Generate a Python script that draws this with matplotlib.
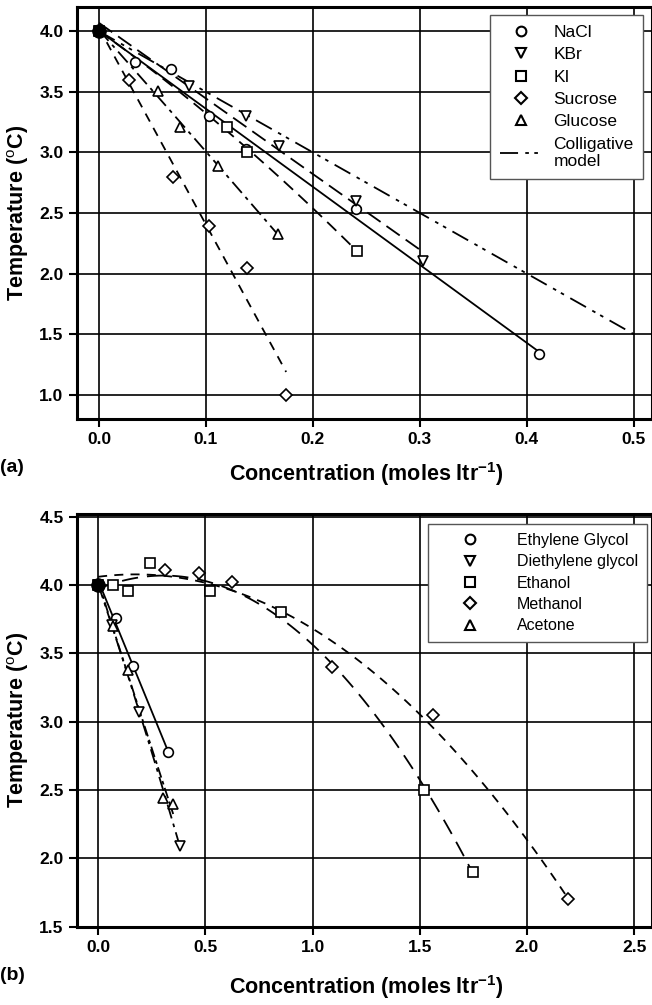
import numpy as np
import matplotlib
matplotlib.use('Agg')
import matplotlib.pyplot as plt
from matplotlib.lines import Line2D

plt.rcParams['font.family'] = ['Liberation Sans', 'DejaVu Sans']
plt.rcParams['mathtext.fontset'] = 'custom'
plt.rcParams['mathtext.rm'] = 'Liberation Sans'
plt.rcParams['mathtext.bf'] = 'Liberation Sans:bold'

# ---- panel (a) data: concentration (mol/l) vs temperature of max density (C)
nacl_x = [0.0, 0.034, 0.067, 0.103, 0.137, 0.240, 0.411]
nacl_y = [4.0, 3.75, 3.69, 3.30, 3.03, 2.53, 1.34]
kbr_x = [0.0, 0.084, 0.137, 0.168, 0.240, 0.303]
kbr_y = [4.0, 3.55, 3.30, 3.05, 2.60, 2.10]
ki_x = [0.0, 0.120, 0.138, 0.241]
ki_y = [4.0, 3.21, 3.00, 2.19]
sucrose_x = [0.0, 0.028, 0.069, 0.103, 0.138, 0.175]
sucrose_y = [4.0, 3.60, 2.80, 2.39, 2.05, 1.00]
glucose_x = [0.0, 0.055, 0.076, 0.111, 0.167]
glucose_y = [4.0, 3.51, 3.21, 2.89, 2.33]
colligative_x = [0.0, 0.5]
colligative_y = [4.0, 1.5]

# ---- panel (b) data
eg_x = [0.0, 0.083, 0.163, 0.324]
eg_y = [4.0, 3.76, 3.41, 2.78]
deg_x = [0.0, 0.065, 0.191, 0.381]
deg_y = [4.0, 3.71, 3.07, 2.09]
ethanol_x = [0.0, 0.07, 0.14, 0.241, 0.521, 0.851, 1.52, 1.749]
ethanol_y = [4.0, 4.0, 3.96, 4.16, 3.96, 3.80, 2.50, 1.90]
methanol_x = [0.0, 0.311, 0.47, 0.622, 1.091, 1.563, 2.19]
methanol_y = [4.0, 4.11, 4.09, 4.02, 3.40, 3.05, 1.70]
acetone_x = [0.0, 0.07, 0.14, 0.303, 0.35]
acetone_y = [4.0, 3.70, 3.38, 2.44, 2.40]

# common starting point (pure water)
origin_x = [0.0]
origin_y = [4.0]

fig = plt.figure(figsize=(6.52, 10.05), dpi=100)
ax1 = fig.add_axes([76.7/652, 1-419/1005, (652-76.7)/652, 412/1005])
ax2 = fig.add_axes([76.7/652, 1-926.7/1005, (652-76.7)/652, 412.7/1005])

mk = dict(ms=7, mfc='white', mec='black', mew=1.2, ls='none', zorder=4)


def fit_line(ax, x, y, deg, style):
    x = np.asarray(x)
    p = np.polyfit(x, y, deg)
    xs = np.linspace(0, x.max(), 100)
    ax.plot(xs, np.polyval(p, xs), color='black', lw=1.3, zorder=3, **style)


# panel (a)
fit_line(ax1, nacl_x, nacl_y, 1, dict(ls='-'))
fit_line(ax1, kbr_x, kbr_y, 1, dict(dashes=(9, 4)))
fit_line(ax1, ki_x, ki_y, 2, dict(dashes=(7, 4)))
fit_line(ax1, sucrose_x, sucrose_y, 1, dict(dashes=(5, 4)))
fit_line(ax1, glucose_x, glucose_y, 2, dict(dashes=(8, 3, 2, 3)))
ax1.plot(colligative_x, colligative_y, color='black', lw=1.3,
         dashes=(10, 4, 2, 3, 2, 4), zorder=3)
ax1.plot(nacl_x, nacl_y, marker='o', **mk)
ax1.plot(kbr_x, kbr_y, marker='v', **mk)
ax1.plot(ki_x, ki_y, marker='s', **mk)
ax1.plot(sucrose_x, sucrose_y, marker='D', **dict(mk, ms=6))
ax1.plot(glucose_x, glucose_y, marker='^', **mk)

# panel (b)
fit_line(ax2, eg_x, eg_y, 1, dict(ls='-'))
fit_line(ax2, deg_x, deg_y, 2, dict(dashes=(8, 3, 2, 3)))
fit_line(ax2, acetone_x, acetone_y, 2, dict(dashes=(6, 2, 2, 2)))
fit_line(ax2, ethanol_x, ethanol_y, 2, dict(dashes=(9, 5)))
fit_line(ax2, methanol_x, methanol_y, 2, dict(dashes=(5, 4)))
ax2.plot(eg_x, eg_y, marker='o', **mk)
ax2.plot(deg_x, deg_y, marker='v', **mk)
ax2.plot(ethanol_x, ethanol_y, marker='s', **mk)
ax2.plot(methanol_x, methanol_y, marker='D', **dict(mk, ms=6))
ax2.plot(acetone_x, acetone_y, marker='^', **mk)

for ax in (ax1, ax2):
    ax.plot(origin_x, origin_y, marker='o', ms=9.5, color='black', ls='none', zorder=5)

ax1.set_xlim(-0.0208, 0.517)
ax1.set_ylim(0.8, 4.2)
ax1.set_xticks(np.arange(0, 0.51, 0.1))
ax1.set_yticks(np.arange(1.0, 4.01, 0.5))
ax2.set_xlim(-0.1, 2.583)
ax2.set_ylim(1.5, 4.52)
ax2.set_xticks(np.arange(0, 2.51, 0.5))
ax2.set_yticks(np.arange(1.5, 4.51, 0.5))

for ax, ylab in ((ax1, -0.1), (ax2, -0.113)):
    ax.grid(True, color='black', lw=1.2)
    ax.set_axisbelow(True)
    for s in ax.spines.values():
        s.set_linewidth(2.2)
    ax.tick_params(direction='out', length=6, width=1.5, labelsize=12.5)
    ax.set_xticklabels(['%.1f' % v for v in ax.get_xticks()], fontweight='bold')
    ax.set_yticklabels(['%.1f' % v for v in ax.get_yticks()], fontweight='bold')
    ax.set_xlabel('Concentration (moles ltr$^{\\mathbf{-1}}$)', fontsize=15.5,
                  fontweight='bold')
    ax.set_ylabel('Temperature ($^{\\mathrm{o}}$C)', fontsize=15.5,
                  fontweight='bold')
    ax.xaxis.set_label_coords((366-76.7)/575.3, ylab)
    ax.yaxis.set_label_coords(-(76.7-31)/575.3, 0.5)

fig.text(0.0, 1-467/1005, '(a)', fontsize=14, fontweight='bold', va='center')
fig.text(0.0, 1-975/1005, '(b)', fontsize=14, fontweight='bold', va='center')


def h(marker, ms=7):
    return Line2D([], [], marker=marker, ls='none', ms=ms, mfc='white',
                  mec='black', mew=1.5)


leg1 = ax1.legend([h('o'), h('v'), h('s'), h('D', 6), h('^'),
                   Line2D([], [], color='black', lw=1.3, dashes=(10, 4, 2, 3, 2, 4))],
                  ['NaCl', 'KBr', 'KI', 'Sucrose', 'Glucose', 'Colligative\nmodel'],
                  loc='upper left', bbox_to_anchor=((490-76.7)/575.3, 1-8/412),
                  fontsize=12.5, fancybox=False, framealpha=1, edgecolor='#555555',
                  handlelength=2.5, handletextpad=0.6, labelspacing=0.42,
                  borderpad=0.55, borderaxespad=0)
leg1.get_frame().set_linewidth(1.0)
leg2 = ax2.legend([h('o'), h('v'), h('s'), h('D', 6), h('^')],
                  ['Ethylene Glycol', 'Diethylene glycol', 'Ethanol', 'Methanol', 'Acetone'],
                  loc='upper left', bbox_to_anchor=((428-76.7)/575.3, 1-10/412.7),
                  fontsize=11.5, fancybox=False, framealpha=1, edgecolor='#555555',
                  handlelength=4.1, handletextpad=0.9, labelspacing=0.4,
                  borderpad=0.55, borderaxespad=0)
leg2.get_frame().set_linewidth(1.0)

fig.savefig('out.png', dpi=100)
